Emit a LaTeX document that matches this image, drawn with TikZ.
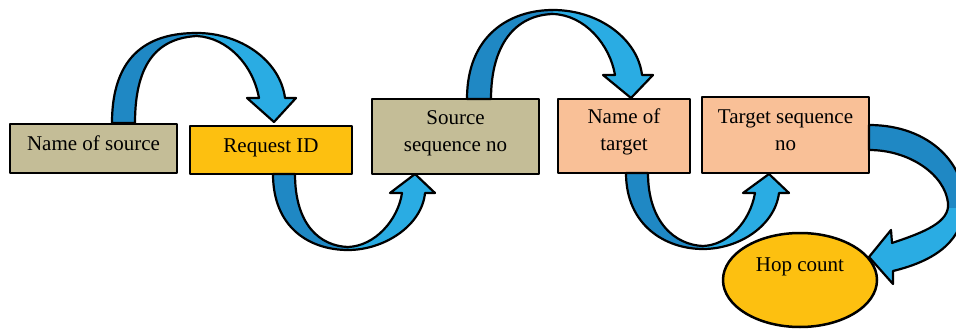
\documentclass[tikz,border=0pt]{standalone}
\usepackage{fontspec}
\setmainfont{Liberation Serif}
\usetikzlibrary{shapes.geometric}
\definecolor{tanbox}{HTML}{C4BD97}
\definecolor{goldbox}{HTML}{FDC010}
\definecolor{peachbox}{HTML}{F9C097}
\definecolor{arrdark}{HTML}{1F88C4}
\definecolor{arrlight}{HTML}{2AACE3}
\newcommand{\liftTxt}[2]{\raisebox{#1}[\height][\depth]{\begin{tabular}{@{}c@{}}#2\end{tabular}}}
\begin{document}
\begin{tikzpicture}[x=1pt,y=-1pt,line join=round,
  box/.style={draw=black, line width=2.5pt, inner sep=0pt, rectangle,
    font=\fontsize{21}{27}\selectfont},
  arrline/.style={draw=black, line width=2.2pt}]
\useasboundingbox (0,0) rectangle (956,329);
\clip (0,0) rectangle (956,329);

% boxes
\node[box, fill=tanbox, minimum width=167pt, minimum height=49pt] (src) at (93.5,148.5) {\liftTxt{3pt}{Name of source}};
\node[box, fill=goldbox, minimum width=162pt, minimum height=48pt] (req) at (271,150) {\liftTxt{3pt}{Request ID}};
\node[box, fill=tanbox, minimum width=167pt, minimum height=75pt] (sseq) at (455.5,136.5) {\liftTxt{4pt}{Source\\sequence no}};
\node[box, fill=peachbox, minimum width=132pt, minimum height=74pt] (tgt) at (624,136) {\liftTxt{4pt}{Name of\\target}};
\node[box, fill=peachbox, minimum width=167pt, minimum height=76pt] (tseq) at (785.5,135) {\liftTxt{3.5pt}{Target sequence\\no}};
\node[box, ellipse, fill=goldbox, minimum width=154pt, minimum height=94pt] (hop) at (800,280) {\liftTxt{14pt}{Hop count}};

% arrow paths
\def\pathA{(112,123) .. controls (112,45) and (160,33) .. (197,33) .. controls (240,33) and (280,60) .. (285,98)
  -- (296,98) -- (274,122) -- (247,98) -- (259,98)
  .. controls (253,65) and (228,38) .. (197,36) .. controls (160,38) and (135,60) .. (135,123) -- cycle}
\def\pathB{(273,174) .. controls (273,228) and (310,250) .. (348,250) .. controls (385,250) and (422,225) .. (425,193)
  -- (435,193) -- (415,174) -- (390,193) -- (402,193)
  .. controls (398,220) and (375,246) .. (348,247) .. controls (320,246) and (295,225) .. (295,174) -- cycle}
\def\pathC{(467,99) .. controls (467,35) and (510,10) .. (553,10) .. controls (600,10) and (638,40) .. (642,75)
  -- (653,75) -- (631,98) -- (603,75) -- (615,75)
  .. controls (610,45) and (585,15) .. (553,14) .. controls (515,15) and (491,45) .. (491,99) -- cycle}
\def\pathD{(626,173) .. controls (626,225) and (665,249) .. (703,249) .. controls (740,249) and (775,225) .. (779,193)
  -- (789,193) -- (769,174) -- (743,193) -- (755,193)
  .. controls (750,222) and (728,245) .. (703,246) .. controls (675,245) and (648,222) .. (648,173) -- cycle}
\def\pathE{(869,125) .. controls (930,125) and (968,165) .. (964,210) .. controls (960,245) and (930,262) .. (893,271)
  -- (893,284) -- (869,257) -- (891,230) -- (892,243)
  .. controls (925,232) and (950,222) .. (948,203) .. controls (945,175) and (910,150) .. (869,150) -- cycle}

% arrow A
\fill[arrlight] \pathA;
\begin{scope}\clip (0,0) rectangle (197,329); \fill[arrdark] \pathA; \end{scope}
\draw[arrline] \pathA;
% arrow B
\fill[arrlight] \pathB;
\begin{scope}\clip (0,0) rectangle (348,329); \fill[arrdark] \pathB; \end{scope}
\draw[arrline] \pathB;
% arrow C
\fill[arrlight] \pathC;
\begin{scope}\clip (0,0) rectangle (553,329); \fill[arrdark] \pathC; \end{scope}
\draw[arrline] \pathC;
% arrow D
\fill[arrlight] \pathD;
\begin{scope}\clip (0,0) rectangle (703,329); \fill[arrdark] \pathD; \end{scope}
\draw[arrline] \pathD;
% arrow E
\fill[arrlight] \pathE;
\begin{scope}\clip (0,0) rectangle (956,207); \fill[arrdark] \pathE; \end{scope}
\draw[arrline] \pathE;
\end{tikzpicture}
\end{document}
